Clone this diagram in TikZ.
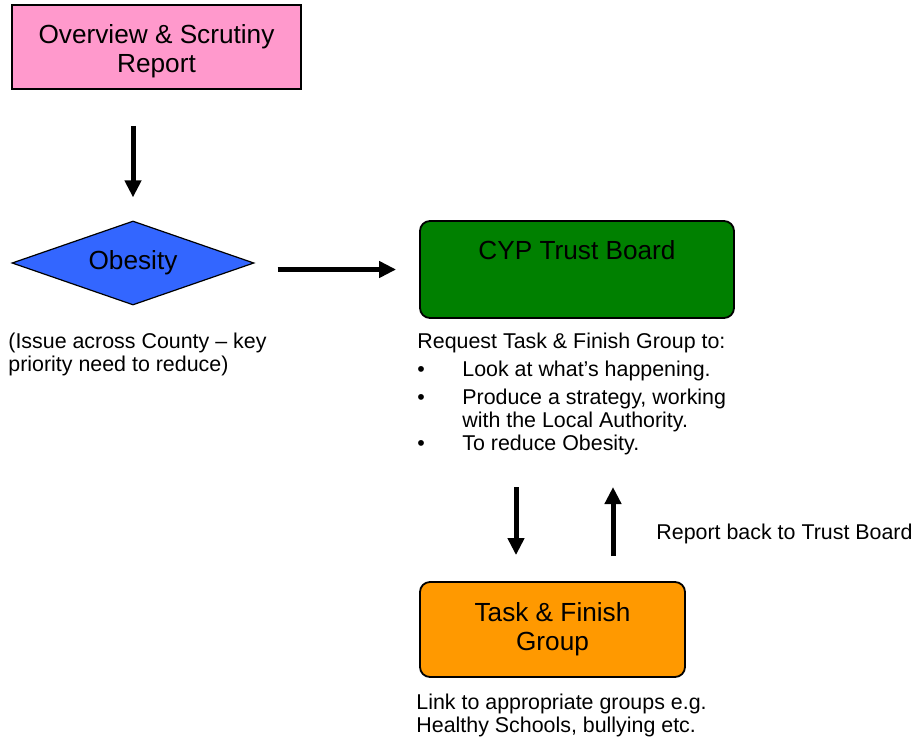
\documentclass[tikz,border=0pt]{standalone}
\usepackage{fontspec}
\setmainfont{Liberation Sans}
\usetikzlibrary{positioning,arrows.meta,shapes.geometric}
\definecolor{osPink}{RGB}{255,153,204}
\definecolor{osBlue}{RGB}{51,102,255}
\definecolor{osGreen}{RGB}{0,128,0}
\definecolor{osOrange}{RGB}{255,153,0}
\tikzset{
    base/.style={font=\fontsize{13.1}{14.6}\selectfont, align=center, text=black},
    box/.style={base, rectangle, draw=black, line width=0.9pt, inner sep=0pt},
    decision/.style={base, diamond, draw=black, line width=0.6pt, fill=osBlue,
                     aspect=2.9, inner sep=0pt, minimum width=121pt, minimum height=42pt},
    note/.style={font=\fontsize{10.7}{11.5}\selectfont, align=left, inner sep=0pt,
                 anchor=north west},
    flow/.style={-{Triangle[length=8.5pt,width=8pt]}, line width=2.5pt}
}
\newcommand{\bul}{\makebox[22.5pt][l]{\textbullet}}

\begin{document}
\begin{tikzpicture}[x=0.5pt, y=-0.5pt]
    \useasboundingbox (0,0) rectangle (914,739);

    % Boxes
    \node[box, fill=osPink, minimum width=144.5pt, minimum height=42pt]
        (report) at (156.5,47) {\rule{0pt}{13.6pt}Overview \& Scrutiny\\Report};
    \node[decision] (obesity) at (133,263) {Obesity};
    \node[box, fill=osGreen, rounded corners=5pt, minimum width=157pt,
          text height=19.2pt, text depth=29.3pt]
        (cyp) at (577,269.5) {CYP Trust Board};
    \node[box, fill=osOrange, rounded corners=5pt, minimum width=132.5pt,
          minimum height=47.5pt]
        (task) at (552.5,629.5) {Task \& Finish\\Group};

    % Notes
    \node[note] (issue) at (8,333) {(Issue across County -- key\\priority need to reduce)};
    \node[note] (req) at (417,333) {Request Task \& Finish Group to:\\[2.5pt]
        \bul Look at what’s happening.\\[2.5pt]
        \bul Produce a strategy, working\\
        \hspace*{22.5pt}with the Local Authority.\\
        \bul To reduce Obesity.};
    \node[note] (back) at (656,524) {Report back to Trust Board};
    \node[note] (link) at (416,694) {Link to appropriate groups e.g.\\Healthy Schools, bullying etc.};

    % Arrows
    \coordinate (down) at (516,487);
    \coordinate (up) at (613,487);
    \draw[flow, shorten <=18pt, shorten >=11.5pt] (report.south -| obesity.north) -- (obesity.north);
    \draw[flow, shorten <=11.5pt, shorten >=11.5pt] (obesity.east |- cyp.west) -- (cyp.west);
    \draw[flow, shorten >=13pt] (down) -- (down |- task.north);
    \draw[flow, shorten <=12.5pt] (up |- task.north) -- (up);
\end{tikzpicture}
\end{document}
